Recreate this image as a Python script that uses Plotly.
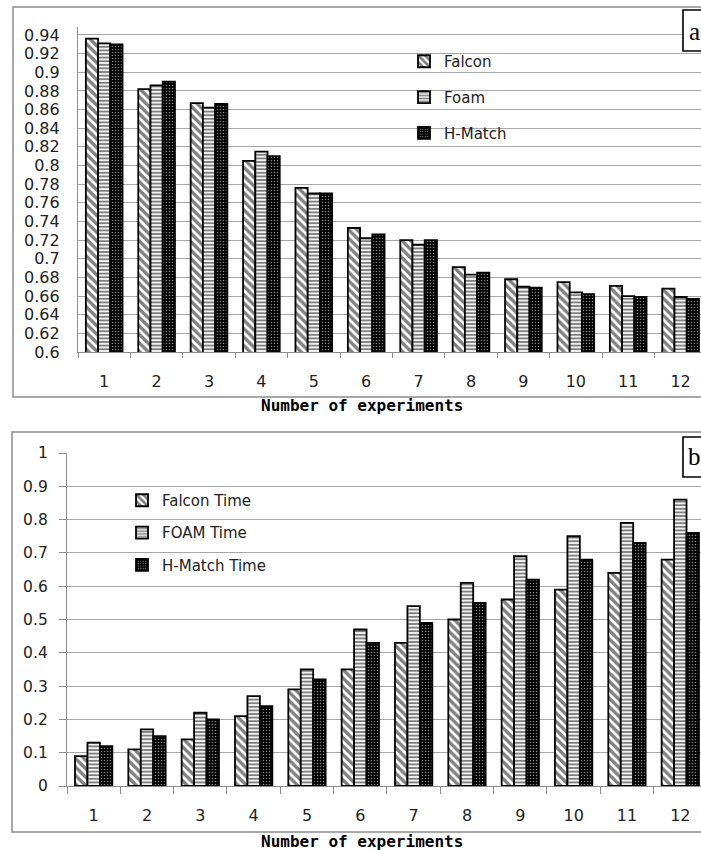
import plotly.graph_objects as go

categories = [str(i) for i in range(1, 13)]

falcon = [0.936, 0.882, 0.867, 0.805, 0.776, 0.733, 0.720, 0.691, 0.678, 0.675, 0.671, 0.668]
foam = [0.931, 0.886, 0.862, 0.815, 0.770, 0.722, 0.715, 0.683, 0.670, 0.664, 0.660, 0.659]
hmatch = [0.930, 0.890, 0.866, 0.810, 0.770, 0.726, 0.720, 0.685, 0.669, 0.662, 0.659, 0.657]

falcon_time = [0.09, 0.11, 0.14, 0.21, 0.29, 0.35, 0.43, 0.50, 0.56, 0.59, 0.64, 0.68]
foam_time = [0.13, 0.17, 0.22, 0.27, 0.35, 0.47, 0.54, 0.61, 0.69, 0.75, 0.79, 0.86]
hmatch_time = [0.12, 0.15, 0.20, 0.24, 0.32, 0.43, 0.49, 0.55, 0.62, 0.68, 0.73, 0.76]

top_ticks = [round(0.6 + 0.02 * i, 2) for i in range(18)]
bottom_ticks = [round(0.1 * i, 1) for i in range(11)]

W, H = 701, 850


def px(x):
    return x / W


def py(y):
    return 1 - y / H


patterns = [
    dict(shape="\\", fgcolor="black", bgcolor="white", size=6, solidity=0.55),
    dict(shape="-", fgcolor="black", bgcolor="white", size=3.6, solidity=0.55),
    dict(shape=".", fgcolor="white", bgcolor="#000000", size=3, solidity=0.22),
]

fig = go.Figure()

top_series = [("Falcon", falcon), ("Foam", foam), ("H-Match", hmatch)]
bot_series = [("Falcon Time", falcon_time), ("FOAM Time", foam_time), ("H-Match Time", hmatch_time)]

for i, (name, vals) in enumerate(top_series):
    fig.add_trace(go.Bar(
        x=categories, y=vals, name=name, xaxis="x", yaxis="y",
        marker=dict(pattern=patterns[i], line=dict(color="black", width=1.8)),
        legend="legend", legendgroup="t%d" % i,
    ))

for i, (name, vals) in enumerate(bot_series):
    fig.add_trace(go.Bar(
        x=categories, y=vals, name=name, xaxis="x2", yaxis="y2",
        marker=dict(pattern=patterns[i], line=dict(color="black", width=1.8)),
        legend="legend2", legendgroup="b%d" % i,
    ))

tick_font = dict(family="DejaVu Sans", size=16, color="#222222")
grid_col = "#a6a6a6"
axis_col = "#8c8c8c"

fig.update_layout(
    width=W, height=H,
    margin=dict(l=0, r=0, t=0, b=0, autoexpand=False),
    paper_bgcolor="white", plot_bgcolor="white",
    barmode="group", bargap=0.3, bargroupgap=0.0,
    xaxis=dict(
        domain=[px(78), 1], anchor="y", type="category",
        range=[-0.5, -0.5 + (W - 78) / 52.4],
        showline=True, linecolor=axis_col, linewidth=1.3,
        ticks="outside", tickson="boundaries", ticklen=5, tickcolor=axis_col, tickwidth=1.3,
        tickfont=tick_font, ticklabelstandoff=15, showgrid=False, automargin=False,
    ),
    yaxis=dict(
        domain=[py(352), py(27)], anchor="x",
        range=[0.6, 0.6 + (352 - 27) / 932.4],
        tickvals=top_ticks, ticktext=[("%g" % v) for v in top_ticks],
        showline=True, linecolor=axis_col, linewidth=1.3,
        showgrid=True, gridcolor=grid_col, gridwidth=1.3,
        ticks="", tickfont=tick_font, ticklabelstandoff=14, zeroline=False,
        automargin=False,
    ),
    xaxis2=dict(
        domain=[px(67), 1], anchor="y2", type="category",
        range=[-0.5, -0.5 + (W - 67) / 53.33],
        showline=True, linecolor=axis_col, linewidth=1.3,
        ticks="outside", tickson="boundaries", ticklen=7, tickcolor=axis_col, tickwidth=1.3,
        tickfont=tick_font, ticklabelstandoff=15, showgrid=False, automargin=False,
    ),
    yaxis2=dict(
        domain=[py(786), py(453)], anchor="x2",
        range=[0, 1],
        tickvals=bottom_ticks, ticktext=[("%g" % v) for v in bottom_ticks],
        showline=True, linecolor=axis_col, linewidth=1.3,
        showgrid=True, gridcolor=grid_col, gridwidth=1.3,
        ticks="outside", ticklen=7, tickcolor=axis_col, tickwidth=1.3,
        tickfont=dict(family="DejaVu Sans", size=15.5, color="#222222"),
        ticklabelstandoff=8, zeroline=False, automargin=False,
    ),
    legend=dict(
        x=px(404), y=py(45), xanchor="left", yanchor="top",
        font=dict(family="DejaVu Sans", size=15, color="#222222"),
        bgcolor="rgba(0,0,0,0)", traceorder="grouped", tracegroupgap=13.3,
        itemclick=False,
    ),
    legend2=dict(
        x=px(122), y=py(484), xanchor="left", yanchor="top",
        font=dict(family="DejaVu Sans", size=15, color="#222222"),
        bgcolor="rgba(0,0,0,0)", traceorder="grouped", tracegroupgap=9.8,
        itemclick=False,
    ),
    showlegend=True,
)

# outer chart borders
fig.add_shape(type="rect", xref="paper", yref="paper",
              x0=px(13), x1=1.1, y0=py(397), y1=py(7),
              line=dict(color="#8c8c8c", width=1.5), layer="below")
fig.add_shape(type="rect", xref="paper", yref="paper",
              x0=px(12), x1=1.1, y0=py(832), y1=py(432),
              line=dict(color="#8c8c8c", width=1.5), layer="below")

# panel label boxes (cropped at the right edge as in the reference)
fig.add_shape(type="rect", xref="paper", yref="paper",
              x0=px(683), x1=px(725), y0=py(51), y1=py(10),
              line=dict(color="black", width=1.6), fillcolor="white", layer="above")
fig.add_shape(type="rect", xref="paper", yref="paper",
              x0=px(683), x1=px(725), y0=py(477), y1=py(437),
              line=dict(color="black", width=1.6), fillcolor="white", layer="above")

title_font = dict(family="DejaVu Sans Mono", size=16, color="black")
fig.add_annotation(text="<b>Number of experiments</b>", xref="paper", yref="paper",
                   x=px(362), y=py(405), xanchor="center", yanchor="middle",
                   showarrow=False, font=title_font)
fig.add_annotation(text="<b>Number of experiments</b>", xref="paper", yref="paper",
                   x=px(362), y=py(841), xanchor="center", yanchor="middle",
                   showarrow=False, font=title_font)

label_font = dict(family="Liberation Serif", size=25, color="black")
fig.add_annotation(text="a", xref="paper", yref="paper", x=px(687), y=py(31),
                   xanchor="left", yanchor="middle", showarrow=False, font=label_font)
fig.add_annotation(text="b", xref="paper", yref="paper", x=px(686), y=py(457),
                   xanchor="left", yanchor="middle", showarrow=False, font=label_font)

fig.write_html("out.html")
